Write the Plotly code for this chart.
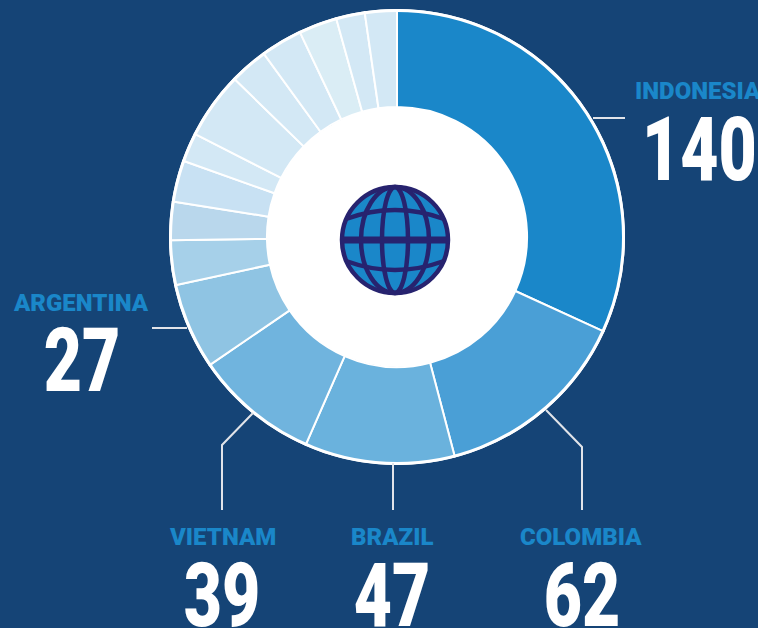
import plotly.graph_objects as go

W, H = 758, 628

categories = ["Indonesia", "Colombia", "Brazil", "Vietnam", "Argentina",
              "Other 1", "Other 2", "Other 3", "Other 4", "Other 5",
              "Other 6", "Other 7", "Other 8", "Other 9", "Other 10"]
values = [140, 62, 47, 39, 27, 14, 12, 13, 9, 21, 12, 13, 12, 9, 10]
colors = ["#1a87c9", "#4a9fd6", "#6ab2dd", "#70b4de", "#8fc4e3",
          "#a6d0e9", "#b9d7ec", "#c8e1f3", "#d3e8f5", "#d3e8f5",
          "#d3e8f5", "#d3e8f5", "#daedf5", "#d3e8f5", "#d3e8f5"]

callout_names = ["INDONESIA", "COLOMBIA", "BRAZIL", "VIETNAM", "ARGENTINA"]
callout_values = ["140", "62", "47", "39", "27"]

BG = "#154476"
NAVY = "#27236f"
BLUE = "#1a87c9"
LEADER = "#e1e4e9"


def px(x):
    return x / W


def py(y):
    return 1 - y / H


def path(points):
    return "M " + " L ".join(f"{px(x):.5f},{py(y):.5f}" for x, y in points)


fig = go.Figure(go.Pie(
    labels=categories,
    values=values,
    sort=False,
    direction="clockwise",
    rotation=0,
    hole=0.573,
    textinfo="none",
    hoverinfo="label+value",
    showlegend=False,
    marker=dict(colors=colors, line=dict(color="white", width=2)),
    domain=dict(x=[px(170), px(624)], y=[py(464), py(10)]),
))

shapes = []


def circle(cx, cy, rx, ry, fill=None, color=NAVY, width=3):
    shapes.append(dict(
        type="circle", xref="paper", yref="paper",
        x0=px(cx - rx), x1=px(cx + rx), y0=py(cy + ry), y1=py(cy - ry),
        fillcolor=fill if fill else "rgba(0,0,0,0)",
        line=dict(color=color, width=width), layer="above"))


# white centre and heavier outer rim
circle(397, 237, 130, 130, fill="white", color="white", width=0)
circle(397, 237, 226.5, 226.5, color="white", width=3)

# globe
GX, GY, GR = 395, 240, 53
LW = 4.5
circle(GX, GY, GR, GR, fill=BLUE, color=NAVY, width=LW)
circle(GX, GY, 13, GR, color=NAVY, width=LW)
circle(GX, GY, 34, GR, color=NAVY, width=LW)
for sign in (-1, 1):
    x0, x1 = px(GX - 49), px(GX + 49)
    ye, yc = py(GY + sign * 21), py(GY + sign * 39)
    shapes.append(dict(
        type="path", xref="paper", yref="paper",
        path=f"M {x0:.5f},{ye:.5f} Q {px(GX):.5f},{yc:.5f} {x1:.5f},{ye:.5f}",
        line=dict(color=NAVY, width=LW), layer="above"))
shapes.append(dict(
    type="line", xref="paper", yref="paper",
    x0=px(GX - GR), x1=px(GX + GR), y0=py(GY), y1=py(GY),
    line=dict(color=NAVY, width=7), layer="above"))

# leader lines
leaders = [
    [(593, 118), (625, 118)],
    [(546, 410), (582, 447), (582, 510)],
    [(393, 463), (393, 510)],
    [(253, 413), (222, 445), (222, 510)],
    [(152, 328), (187, 328)],
]
for pts in leaders:
    shapes.append(dict(
        type="path", xref="paper", yref="paper", path=path(pts),
        line=dict(color=LEADER, width=2), layer="above"))

# callouts: (label x, label y, value x, value y, anchor)
placements = [
    (633, 91, 640, 149, "left"),
    (581, 537, 582, 595, "center"),
    (392, 537, 392, 595, "center"),
    (222, 537, 222, 595, "center"),
    (81, 303, 82, 360, "center"),
]
annotations = []
for name, val, (lx, ly, vx, vy, anchor) in zip(callout_names, callout_values, placements):
    annotations.append(dict(
        x=px(lx), y=py(ly), xref="paper", yref="paper", text=name,
        showarrow=False, xanchor=anchor, yanchor="middle",
        font=dict(family="Roboto", size=24, color=BLUE, weight=900)))
    annotations.append(dict(
        x=px(vx), y=py(vy), xref="paper", yref="paper", text=val,
        showarrow=False, xanchor=anchor, yanchor="middle",
        font=dict(family="Roboto", size=88, color="white", weight=900)))

fig.update_layout(
    width=W, height=H,
    margin=dict(l=0, r=0, t=0, b=0),
    paper_bgcolor=BG,
    plot_bgcolor=BG,
    shapes=shapes,
    annotations=annotations,
)

# The reference numerals are a condensed face: narrow the real text horizontally.
post = """
document.documentElement.style.background = '%s';
document.body.style.margin = '0';
document.body.style.overflow = 'hidden';
document.querySelectorAll('text.annotation-text').forEach(function (t) {
  if (!/^[0-9]+$/.test(t.textContent)) return;
  var b = t.getBBox();
  var cx = t.textContent === '140' ? b.x : b.x + b.width / 2;
  t.setAttribute('transform', 'translate(' + cx + ',0) scale(0.75,1) translate(' + (-cx) + ',0)');
});
""" % BG

fig.write_html("out.html", config={"displayModeBar": False}, post_script=post)
